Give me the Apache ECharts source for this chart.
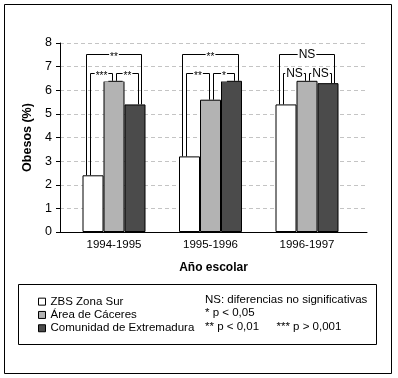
<!DOCTYPE html>
<html>
<head>
<meta charset="utf-8">
<script src="https://cdn.jsdelivr.net/npm/echarts@6/dist/echarts.min.js"></script>
<style>
html,body{margin:0;padding:0;background:#fff;}
#chart{width:398px;height:378px;}
</style>
</head>
<body>
<div id="chart"></div>
<script>
// ---- data ----
const categories = ['1994-1995', '1995-1996', '1996-1997'];
const seriesNames = ['ZBS Zona Sur', 'Área de Cáceres', 'Comunidad de Extremadura'];
const zbsZonaSur = [2.4, 3.2, 5.4];
const areaCaceres = [6.4, 5.6, 6.4];
const comunidadExtremadura = [5.4, 6.4, 6.3];
const yMin = 0, yMax = 8, yStep = 1;
// significance brackets
const bracketCategory = [0, 0, 0, 1, 1, 1, 2, 2, 2];
const bracketFrom     = [0, 0, 1, 0, 0, 1, 0, 0, 1];
const bracketTo       = [2, 1, 2, 2, 1, 2, 2, 1, 2];
const bracketHeight   = [7.5, 6.7, 6.7, 7.5, 6.7, 6.7, 7.5, 6.7, 6.7];
const bracketLabels   = ['**', '***', '**', '**', '**', '*', 'NS', 'NS', 'NS'];
const noteLines = ['NS: diferencias no significativas', '* p < 0,05', '** p < 0,01', '*** p > 0,001'];

// ---- styles ----
const FONT = '"Liberation Sans", Arial, sans-serif';
const BAR_W = 21;
const colors = ['#ffffff', '#b3b3b3', '#4b4b4b'];
const allValues = [zbsZonaSur, areaCaceres, comunidadExtremadura];

const chart = echarts.init(document.getElementById('chart'), null, {renderer: 'canvas'});

function crisp(v) { return Math.round(v - 0.5) + 0.5; }

function renderBracket(params, api) {
  const cat = api.value(0), from = api.value(1), to = api.value(2), top = api.value(3);
  const label = bracketLabels[params.dataIndex];
  const c = api.coord([cat, top]);
  const span = to - from;
  const lOff = span === 2 ? -7 : (from === 0 ? -3 : 2.5);
  const rOff = span === 2 ? 6.5 : (to === 1 ? -1.5 : 3);
  const xL = crisp(c[0] + (from - 1) * BAR_W + lOff);
  const xR = crisp(c[0] + (to - 1) * BAR_W + rOff);
  const yT = crisp(c[1]);
  const yL = api.coord([cat, allValues[from][cat]])[1];
  const yR = api.coord([cat, allValues[to][cat]])[1];
  const isStar = label.indexOf('*') === 0;
  return {
    type: 'group',
    children: [
      {type: 'polyline', shape: {points: [[xL, yL], [xL, yT], [xR, yT], [xR, yR]]},
       style: {stroke: '#000', lineWidth: 1, fill: null}},
      {type: 'text', x: (xL + xR) / 2, y: yT + (isStar ? 3 : 0),
       style: {text: label, align: 'center', verticalAlign: 'middle',
               font: (isStar ? '10px ' : '12px ') + FONT, fill: '#000',
               backgroundColor: '#fff', padding: [0, 1]}}
    ]
  };
}

const barSeries = seriesNames.map((name, i) => ({
  name: name,
  type: 'bar',
  xAxisIndex: 1,
  yAxisIndex: 1,
  data: allValues[i],
  barWidth: BAR_W,
  barGap: '0%',
  itemStyle: {color: colors[i], borderColor: '#000', borderWidth: 1},
  emphasis: {disabled: true},
  animation: false,
  z: 2
}));

const bracketData = bracketCategory.map((c, i) => [c, bracketFrom[i], bracketTo[i], bracketHeight[i]]);

const option = {
  animation: false,
  backgroundColor: '#fff',
  textStyle: {fontFamily: FONT},
  grid: [
    {left: 60, right: 31, top: 43, bottom: 146},
    {left: 65.75, right: 42.75, top: 43, bottom: 146}
  ],
  xAxis: [
    {type: 'value', gridIndex: 0, min: 0, max: 1,
     axisLine: {show: true, onZero: false, lineStyle: {color: '#000', width: 1}},
     axisTick: {show: false}, axisLabel: {show: false}, splitLine: {show: false},
     name: 'Año escolar', nameLocation: 'middle', nameGap: 30,
     nameTextStyle: {fontFamily: FONT, fontWeight: 'bold', fontSize: 12, color: '#000'}},
    {type: 'category', gridIndex: 1, data: categories,
     axisLine: {show: false}, axisTick: {show: false},
     axisLabel: {fontFamily: FONT, fontSize: 11.5, color: '#000', margin: 7}}
  ],
  yAxis: [
    {type: 'value', gridIndex: 0, min: yMin, max: yMax, interval: yStep,
     axisLine: {show: true, lineStyle: {color: '#000', width: 1}},
     axisTick: {show: true, length: 4, lineStyle: {color: '#000'}},
     axisLabel: {fontFamily: FONT, fontSize: 12.5, color: '#000', margin: 8},
     splitLine: {show: true, lineStyle: {color: '#c4c4c4', type: [4, 3], width: 1}},
     name: 'Obesos (%)', nameLocation: 'middle', nameGap: 24, nameRotate: 90,
     nameTextStyle: {fontFamily: FONT, fontWeight: 'bold', fontSize: 12.5, color: '#000'}},
    {type: 'value', gridIndex: 1, min: yMin, max: yMax, show: false}
  ],
  legend: {
    orient: 'vertical', left: 33, top: 290,
    itemWidth: 7, itemHeight: 7, itemGap: 0,
    icon: 'rect',
    data: seriesNames,
    textStyle: {fontFamily: FONT, fontSize: 11.5, color: '#000', lineHeight: 13.3},
    itemStyle: {borderColor: '#000', borderWidth: 1},
    selectedMode: false
  },
  graphic: [
    {type: 'rect', shape: {x: 4.5, y: 4.5, width: 387, height: 369},
     style: {fill: null, stroke: '#000', lineWidth: 1}, silent: true},
    {type: 'rect', shape: {x: 18.5, y: 284.5, width: 358, height: 60},
     style: {fill: null, stroke: '#000', lineWidth: 1}, silent: true},
    {type: 'text', x: 205, y: 300, style: {text: noteLines[0], font: '11.5px ' + FONT, fill: '#000', verticalAlign: 'middle'}},
    {type: 'text', x: 205, y: 313, style: {text: noteLines[1], font: '11.5px ' + FONT, fill: '#000', verticalAlign: 'middle'}},
    {type: 'text', x: 205, y: 326.5, style: {text: noteLines[2], font: '11.5px ' + FONT, fill: '#000', verticalAlign: 'middle'}},
    {type: 'text', x: 276.5, y: 326.5, style: {text: noteLines[3], font: '11.5px ' + FONT, fill: '#000', verticalAlign: 'middle'}}
  ],
  series: barSeries.concat([{
    type: 'custom',
    name: 'brackets',
    xAxisIndex: 1,
    yAxisIndex: 1,
    data: bracketData,
    renderItem: renderBracket,
    clip: false,
    silent: true,
    z: 5
  }])
};

chart.setOption(option);
</script>
</body>
</html>
